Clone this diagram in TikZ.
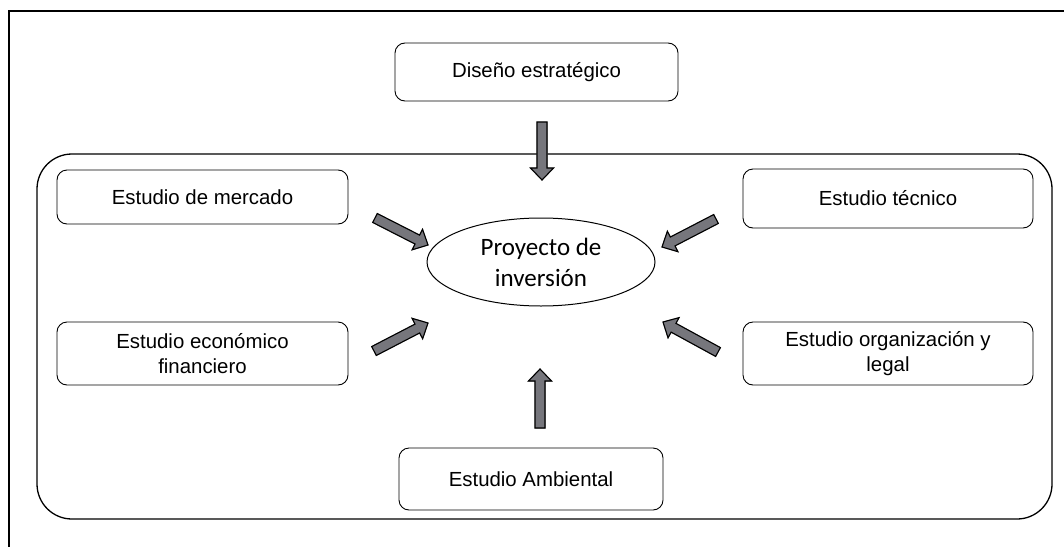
\documentclass[tikz,border=0pt]{standalone}
\usepackage{fontspec}
\setmainfont{Liberation Sans}
\newfontfamily\calib{Carlito}
\usetikzlibrary{calc,shapes.geometric}
\definecolor{arrfill}{RGB}{118,118,124}
\definecolor{shadowc}{RGB}{150,150,150}
\tikzset{
  boxst/.style={draw=black, line width=0.9pt, rounded corners=10pt, align=center,
    font=\fontsize{20.4}{25}\selectfont, inner sep=0pt},
  arrst/.style={draw=black, line width=1.1pt, fill=arrfill, line join=miter},
  shst/.style={fill=shadowc, draw=shadowc, line width=1pt},
}
\newcommand\blockarrow[2]{%
  \coordinate (ba-h) at ($(#2)!12pt!(#1)$);
  \path[shst, shift={(2.5,2.5)}]
    ($(#1)!5pt!90:(ba-h)$) -- ($(ba-h)!5pt!-90:(#1)$) -- ($(ba-h)!11.5pt!-90:(#1)$) --
    (#2) -- ($(ba-h)!11.5pt!90:(#1)$) -- ($(ba-h)!5pt!90:(#1)$) -- ($(#1)!5pt!-90:(ba-h)$) -- cycle;
  \path[arrst]
    ($(#1)!5pt!90:(ba-h)$) -- ($(ba-h)!5pt!-90:(#1)$) -- ($(ba-h)!11.5pt!-90:(#1)$) --
    (#2) -- ($(ba-h)!11.5pt!90:(#1)$) -- ($(ba-h)!5pt!90:(#1)$) -- ($(#1)!5pt!-90:(ba-h)$) -- cycle;
}
\begin{document}
\begin{tikzpicture}[x=1pt,y=-1pt]
\useasboundingbox (0,0) rectangle (1064,546);
% outer frame (top and left only)
\draw[line width=2.2pt] (9,548) -- (9,11) -- (1066,11);
% inner rounded frame
\draw[line width=1.3pt, rounded corners=35pt] (37,154) rectangle (1052,519);

\node[boxst, minimum width=283pt, minimum height=58pt] (dis) at (536.5,72) {Diseño estratégico};
\node[boxst, minimum width=291pt, minimum height=54pt] (mer) at (202.5,197) {Estudio de mercado};
\node[boxst, minimum width=290pt, minimum height=59pt] (tec) at (888,198.5) {Estudio técnico};
\node[boxst, minimum width=291pt, minimum height=63pt] (eco) at (202.5,353.5) {Estudio económico\\financiero};
\node[boxst, minimum width=290pt, minimum height=63pt] (org) at (888,353.5) {Estudio organización y\\legal};
\node[boxst, minimum width=264pt, minimum height=62pt] (amb) at (531,479) {Estudio Ambiental};
\node[draw=black, line width=1pt, ellipse, minimum width=228pt, minimum height=88pt, inner sep=0pt,
  align=center, font=\calib\fontsize{25}{31}\selectfont] (pro) at (541,262) {Proyecto de\\inversión};

\coordinate (a1t) at (542,122); \coordinate (a1h) at (542,180);
\coordinate (a2t) at (540,428); \coordinate (a2h) at (540,369);
\coordinate (a3t) at (375,218); \coordinate (a3h) at (428,245);
\coordinate (a4t) at (716,219); \coordinate (a4h) at (662,247);
\coordinate (a5t) at (374,351); \coordinate (a5h) at (428,323);
\coordinate (a6t) at (718,352); \coordinate (a6h) at (663,322);
\blockarrow{a1t}{a1h}
\blockarrow{a2t}{a2h}
\blockarrow{a3t}{a3h}
\blockarrow{a4t}{a4h}
\blockarrow{a5t}{a5h}
\blockarrow{a6t}{a6h}
\end{tikzpicture}
\end{document}
